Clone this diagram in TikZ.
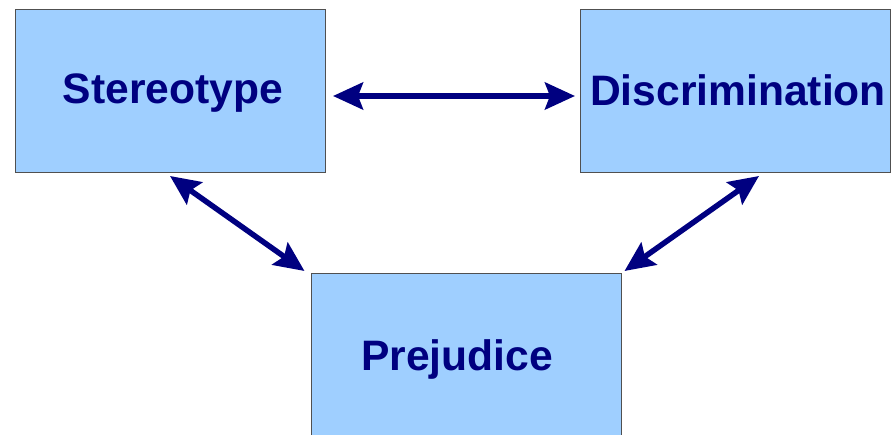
\documentclass[tikz,border=0pt]{standalone}
\usepackage{fontspec}
\setmainfont{Liberation Sans}
\usetikzlibrary{arrows.meta}
\definecolor{boxfill}{RGB}{159,207,255}
\definecolor{navyc}{RGB}{0,0,128}
\definecolor{edgec}{RGB}{80,80,80}
\begin{document}
\begin{tikzpicture}[x=1pt,y=-1pt,
  box/.style={draw=edgec, line width=1pt, fill=boxfill, minimum width=310pt, minimum height=163pt, inner sep=0pt, outer sep=0pt},
  lbl/.style={text=navyc, font=\fontsize{42.6}{48}\selectfont\bfseries, inner sep=0pt, anchor=base},
  arr/.style={draw=navyc, line width=5.5pt, {Stealth[length=30pt,width=27pt,inset=5pt]}-{Stealth[length=30pt,width=27pt,inset=5pt]}}]
\useasboundingbox (0,0) rectangle (892,435);
\clip (0,0) rectangle (892,435);
\node[box] (ster) at (170,91.5) {};
\node[box] (disc) at (735,91.5) {};
\node[box] (prej) at (466.5,355.5) {};
\node[lbl] (sterl) at (173,103.5) {Stereotype};
\node[lbl] (discl) at (738,106) {Discrimination};
\node[lbl] (prejl) at (457,371) {Prejudice};
\draw[arr] ([xshift=8pt,yshift=-4.5pt]ster.east) -- ([xshift=-5pt,yshift=-4.5pt]disc.west);
\draw[arr] ([yshift=-3pt]ster.south) -- ([xshift=-7pt,yshift=3pt]prej.north west);
\draw[arr] ([xshift=24pt,yshift=-3pt]disc.south) -- ([xshift=3pt,yshift=3pt]prej.north east);
\end{tikzpicture}
\end{document}
